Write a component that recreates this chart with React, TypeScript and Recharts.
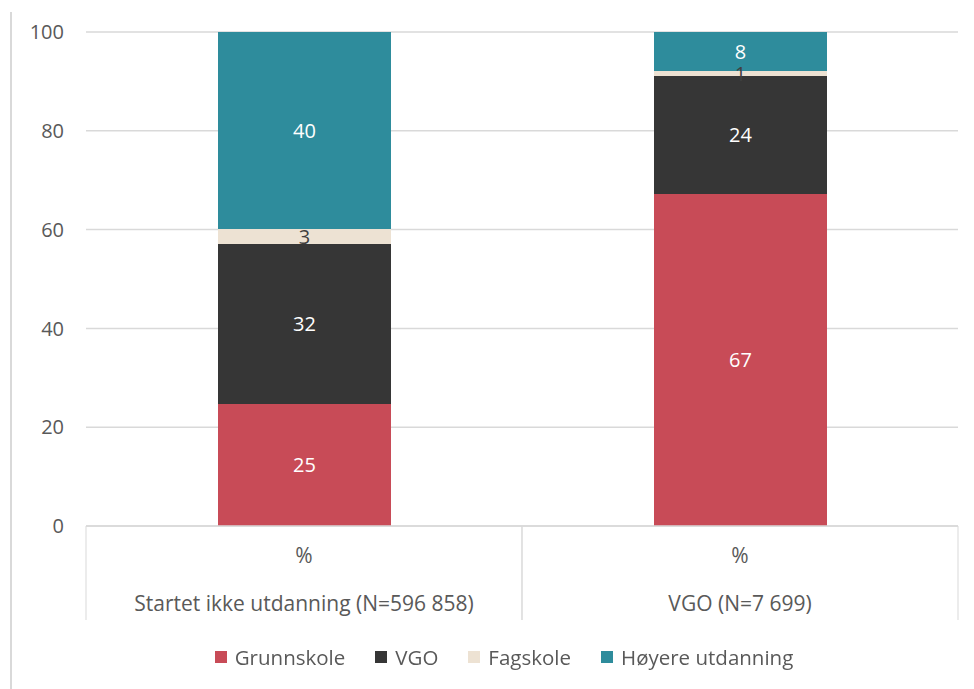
import { BarChart, Bar, XAxis, YAxis, CartesianGrid, Legend, LabelList } from "recharts";

const categories = ["Startet ikke utdanning (N=596 858)", "VGO (N=7 699)"];
const unitLabels = ["%", "%"];
const grunnskole = [24.7, 67.2];
const vgo = [32.4, 23.9];
const fagskole = [3.0, 1.0];
const hoyere = [39.9, 7.9];
const yTicks = [0, 20, 40, 60, 80, 100];

const SERIES = [
  { key: "grunnskole", name: "Grunnskole", color: "#c84b57", label: "#ffffff" },
  { key: "vgo", name: "VGO", color: "#363636", label: "#ffffff" },
  { key: "fagskole", name: "Fagskole", color: "#ede2d3", label: "#404040" },
  { key: "hoyere", name: "Høyere utdanning", color: "#2e8c9c", label: "#ffffff" },
];

const data = categories.map((group, i) => ({
  group,
  unit: unitLabels[i],
  grunnskole: grunnskole[i],
  vgo: vgo[i],
  fagskole: fagskole[i],
  hoyere: hoyere[i],
}));

const FONT = '"Open Sans", sans-serif';
const TEXT = "#595959";
const LINE = "#d9d9d9";
const PLOT_W = 872;
const HALF_BAND = PLOT_W / categories.length / 2;

function CatTick({ x, y, payload, lineLen }: any) {
  return (
    <g>
      <line x1={x - HALF_BAND} x2={x - HALF_BAND} y1={y} y2={y + lineLen} stroke={LINE} />
      <line x1={x + HALF_BAND} x2={x + HALF_BAND} y1={y} y2={y + lineLen} stroke={LINE} />
      <text x={x} y={y + 31} textAnchor="middle" dominantBaseline="middle" fill={TEXT} fontSize={21} fontFamily={FONT}>
        {payload.value}
      </text>
    </g>
  );
}

function LegendContent() {
  return (
    <div style={{ display: "flex", justifyContent: "center", alignItems: "center", height: 30, fontFamily: FONT, fontSize: 20.5, color: TEXT, transform: "translateX(17px)" }}>
      {SERIES.map((s) => (
        <div key={s.key} style={{ display: "flex", alignItems: "center", margin: "0 15px" }}>
          <span style={{ width: 12, height: 12, background: s.color, marginRight: 8, display: "inline-block" }} />
          <span>{s.name}</span>
        </div>
      ))}
    </div>
  );
}

export default function App() {
  return (
    <div style={{ position: "fixed", left: 0, top: 0, width: 974, height: 689, background: "#fff" }}>
      <div style={{ position: "absolute", left: 10, top: 12, bottom: 0, borderLeft: `2px solid ${LINE}` }} />
      <BarChart
        width={974}
        height={689}
        data={data}
        margin={{ top: 32, right: 16, left: 16, bottom: 37 }}
        barSize={173}
      >
        <CartesianGrid vertical={false} stroke={LINE} strokeWidth={1.5} />
        <YAxis
          domain={[0, 100]}
          ticks={yTicks}
          width={70}
          axisLine={false}
          tickLine={false}
          tickSize={0}
          tickMargin={22}
          tick={{ fill: TEXT, fontSize: 20, fontFamily: FONT }}
        />
        <XAxis
          dataKey="unit"
          xAxisId={0}
          height={48}
          axisLine={{ stroke: LINE, strokeWidth: 1.5 }}
          tickLine={false}
          tickSize={0}
          tickMargin={0}
          interval={0}
          tick={<CatTick lineLen={48} />}
        />
        <XAxis
          dataKey="group"
          xAxisId="grp"
          height={48}
          axisLine={false}
          tickLine={false}
          tickSize={0}
          tickMargin={0}
          interval={0}
          tick={<CatTick lineLen={46} />}
        />
        <Legend content={<LegendContent />} wrapperStyle={{ top: 642, bottom: "auto", left: 0, width: 974 }} />
        {SERIES.map((s) => (
          <Bar key={s.key} dataKey={s.key} name={s.name} stackId="a" fill={s.color} isAnimationActive={false}>
            <LabelList
              dataKey={s.key}
              position="center"
              formatter={(v: any) => Math.round(v)}
              fill={s.label}
              fontSize={20}
              fontFamily={FONT}
            />
          </Bar>
        ))}
      </BarChart>
    </div>
  );
}
